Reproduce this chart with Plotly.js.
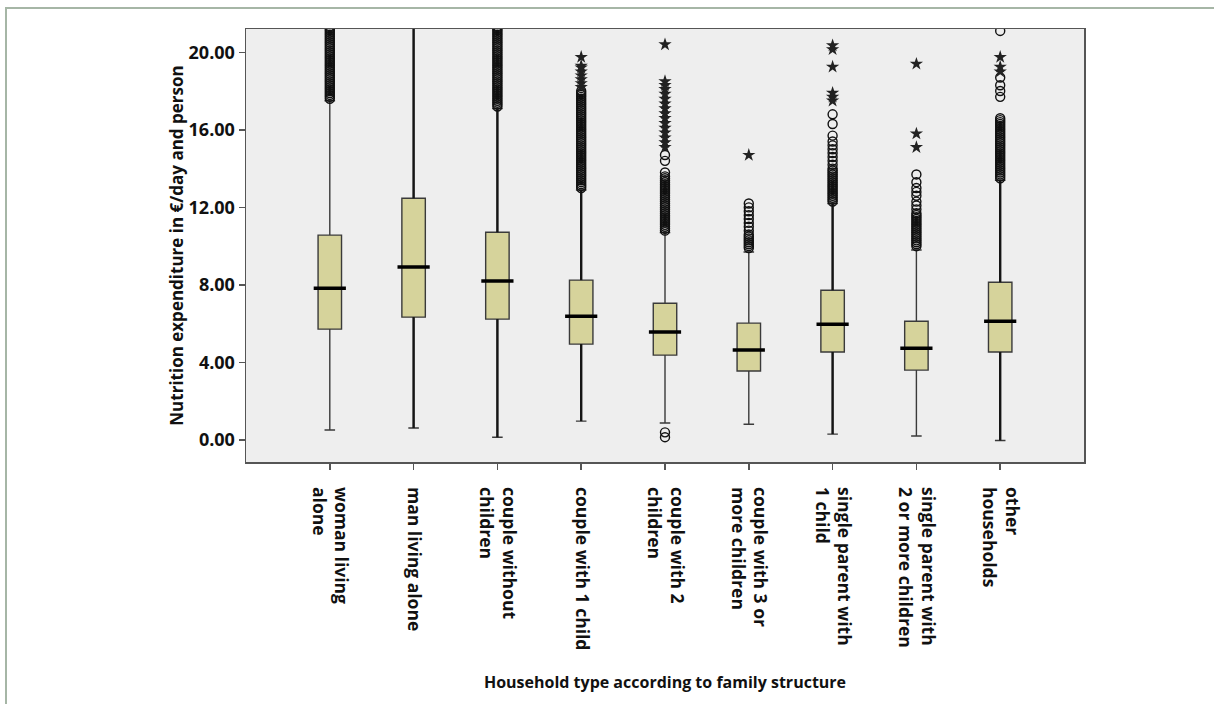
<!DOCTYPE html>
<html>
<head>
<meta charset="utf-8">
<script src="https://cdn.plot.ly/plotly-3.0.1.min.js"></script>
<style>
  html, body { margin: 0; padding: 0; background: #fff; }
  #chart { width: 1214px; height: 704px; position: absolute; left: 0; top: 0; }
  #frame { position: absolute; left: 5px; top: 7px; width: 1220px; height: 710px;
           border-top: 2px solid #a6b6a6; border-left: 2px solid #a6b6a6; pointer-events: none; }
</style>
</head>
<body>
<div id="chart"></div>
<div id="frame"></div>
<script>
// ---------- data ----------
const categories = [
  "woman living<br>alone",
  "man living alone",
  "couple without<br>children",
  "couple with 1 child",
  "couple with 2<br>children",
  "couple with 3 or<br>more children",
  "single parent with<br>1 child",
  "single parent with<br>2 or more children",
  "other<br>households"
];
const q1Values     = [5.72, 6.34, 6.24, 4.95, 4.38, 3.56, 4.54, 3.61, 4.54];
const medianValues = [7.83, 8.92, 8.20, 6.39, 5.57, 4.64, 5.98, 4.74, 6.13];
const q3Values     = [10.57, 12.47, 10.72, 8.25, 7.06, 6.03, 7.73, 6.13, 8.14];
const lowerWhisker = [0.52, 0.62, 0.15, 0.98, 0.88, 0.82, 0.31, 0.21, -0.02];
const upperWhisker = [17.5, 22.0, 17.1, 12.9, 10.7, 9.7, 12.2, 9.8, 13.4];
// whiskers that appear heavier in the reference (large samples)
const heavyWhisker = [false, true, true, true, false, false, true, false, true];

// outliers (circles) per category
const circleOutliers = [
  [17.6,17.7,17.8,17.9,18.0,18.1,18.2,18.3,18.4,18.5,18.6,18.7,18.8,18.9,19.0,19.1,19.2,19.3,19.4,19.5,19.6,19.7,19.8,19.9,20.0,20.1,20.2,20.3,20.4,20.5,20.6,20.7,20.8,20.9,21.0,21.1,21.2,21.3],
  [],
  [17.2,17.3,17.4,17.5,17.6,17.7,17.8,17.9,18.0,18.1,18.2,18.3,18.4,18.5,18.6,18.7,18.8,18.9,19.0,19.1,19.2,19.3,19.4,19.5,19.6,19.7,19.8,19.9,20.0,20.1,20.2,20.3,20.4,20.5,20.6,20.7,20.8,20.9,21.0,21.1,21.2,21.3],
  [13.0,13.1,13.2,13.3,13.4,13.5,13.6,13.7,13.8,13.9,14.0,14.1,14.2,14.3,14.4,14.5,14.6,14.7,14.8,14.9,15.0,15.1,15.2,15.3,15.4,15.5,15.6,15.7,15.8,15.9,16.0,16.1,16.2,16.3,16.4,16.5,16.6,16.7,16.8,16.9,17.0,17.1,17.2,17.3,17.4,17.5,17.6,17.7,17.8,17.9,18.0],
  [0.15,0.4,10.8,10.9,11.0,11.1,11.2,11.3,11.4,11.5,11.6,11.7,11.8,11.9,12.0,12.1,12.2,12.3,12.4,12.5,12.6,12.7,12.8,12.9,13.0,13.1,13.2,13.3,13.4,13.5,13.6,13.8,14.4,14.7],
  [9.9,10.0,10.1,10.2,10.3,10.4,10.5,10.6,10.8,11.0,11.2,11.4,11.6,11.8,12.0,12.2],
  [12.3,12.4,12.5,12.6,12.7,12.8,12.9,13.0,13.1,13.2,13.3,13.4,13.5,13.6,13.7,13.8,13.9,14.0,14.2,14.4,14.6,14.8,15.0,15.2,15.4,15.7,16.3,16.8],
  [10.0,10.1,10.2,10.3,10.4,10.5,10.6,10.7,10.8,10.9,11.0,11.1,11.2,11.3,11.4,11.5,11.6,11.7,11.9,12.1,12.3,12.6,12.8,13.0,13.3,13.7],
  [13.5,13.6,13.7,13.8,13.9,14.0,14.1,14.2,14.3,14.4,14.5,14.6,14.7,14.8,14.9,15.0,15.1,15.2,15.3,15.4,15.5,15.6,15.7,15.8,15.9,16.0,16.1,16.2,16.3,16.4,16.5,16.6,17.7,18.0,18.3,18.7,21.1]
];
// extreme values (stars) per category
const starOutliers = [
  [],
  [],
  [],
  [18.2,18.4,18.6,18.8,19.0,19.2,19.3,19.75],
  [15.1,15.35,15.6,15.85,16.1,16.35,16.6,16.85,17.1,17.35,17.6,17.85,18.1,18.3,18.5,20.4],
  [14.7],
  [17.5,17.7,17.9,19.25,20.15,20.35],
  [15.1,15.8,19.4],
  [19.0,19.25,19.75]
];

const yTickValues = [0, 4, 8, 12, 16, 20];
const yTitle = "Nutrition expenditure in €/day and person";
const xTitle = "Household type according to family structure";

// ---------- build traces ----------
const boxTrace = {
  type: "box",
  x: categories,
  q1: q1Values,
  median: medianValues,
  q3: q3Values,
  lowerfence: lowerWhisker,
  upperfence: upperWhisker,
  width: 0.28,
  whiskerwidth: 0.45,
  fillcolor: "#d6d39b",
  line: { color: "#3a3a3a", width: 1.4 },
  boxpoints: false,
  hoverinfo: "skip",
  showlegend: false
};

// heavier whisker overlays (error bars from the box edges to the whisker ends)
const hx = [], hq3 = [], hUp = [], hq1 = [], hDown = [];
categories.forEach((c, i) => {
  if (heavyWhisker[i]) {
    hx.push(c);
    hq3.push(q3Values[i]); hUp.push(upperWhisker[i] - q3Values[i]);
    hq1.push(q1Values[i]); hDown.push(q1Values[i] - lowerWhisker[i]);
  }
});
const heavyUpper = {
  type: "scatter", mode: "markers", x: hx, y: hq3,
  marker: { size: 1, opacity: 0 },
  error_y: { type: "data", symmetric: false, array: hUp, arrayminus: hUp.map(() => 0), width: 0, thickness: 2.4, color: "#151515" },
  hoverinfo: "skip", showlegend: false
};
const heavyLower = {
  type: "scatter", mode: "markers", x: hx, y: hq1,
  marker: { size: 1, opacity: 0 },
  error_y: { type: "data", symmetric: false, array: hDown.map(() => 0), arrayminus: hDown, width: 0, thickness: 2.4, color: "#151515" },
  hoverinfo: "skip", showlegend: false
};

const cx = [], cy = [], sx = [], sy = [];
categories.forEach((c, i) => {
  circleOutliers[i].forEach(v => { cx.push(c); cy.push(v); });
  starOutliers[i].forEach(v => { sx.push(c); sy.push(v); });
});

const circleTrace = {
  type: "scatter", mode: "markers", x: cx, y: cy,
  marker: { symbol: "circle-open", size: 9, color: "#111", line: { width: 1.4, color: "#111" } },
  hoverinfo: "skip", showlegend: false
};
const starTrace = {
  type: "scatter", mode: "markers", x: sx, y: sy,
  marker: { symbol: "star", size: 10, color: "#222", line: { width: 0 } },
  hoverinfo: "skip", showlegend: false
};
const medianTrace = {
  type: "scatter", mode: "markers", x: categories, y: medianValues,
  marker: { symbol: "line-ew", size: 23, color: "#000", line: { width: 3.5, color: "#000" } },
  hoverinfo: "skip", showlegend: false
};

const font = { family: "Open Sans, Lato, sans-serif", color: "#111", weight: 700 };

const layout = {
  width: 1214, height: 704,
  margin: { l: 246, r: 130, t: 29, b: 242 },
  paper_bgcolor: "#ffffff",
  plot_bgcolor: "#eeeeee",
  showlegend: false,
  xaxis: {
    type: "category",
    categoryorder: "array",
    categoryarray: categories,
    range: [-1, 9],
    tickangle: 90,
    ticks: "outside", ticklen: 6, tickwidth: 1.5, tickcolor: "#555",
    ticklabelstandoff: 14,
    showline: true, mirror: true, linecolor: "#555", linewidth: 1.5,
    showgrid: false, zeroline: false,
    tickfont: Object.assign({ size: 17.5 }, font),
    title: { text: xTitle, font: Object.assign({ size: 16 }, font), standoff: 27 },
    automargin: false
  },
  yaxis: {
    range: [-1.13, 21.2],
    tickvals: yTickValues,
    tickformat: ".2f",
    ticks: "outside", ticklen: 6, tickwidth: 1.5, tickcolor: "#555",
    showline: true, mirror: true, linecolor: "#555", linewidth: 1.5,
    showgrid: false, zeroline: false,
    tickfont: Object.assign({ size: 18 }, font),
    title: { text: yTitle, font: Object.assign({ size: 17 }, font), standoff: 0 },
    automargin: false
  }
};

Plotly.newPlot("chart", [boxTrace, heavyUpper, heavyLower, circleTrace, starTrace, medianTrace], layout, { staticPlot: true });
</script>
</body>
</html>
